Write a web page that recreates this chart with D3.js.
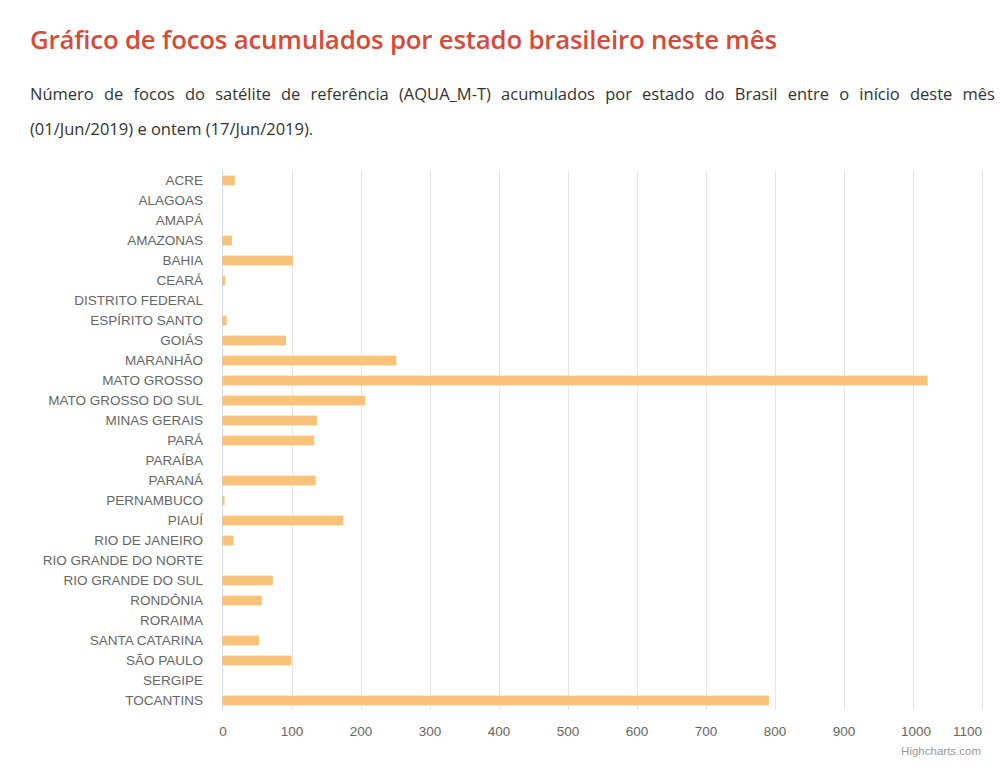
<!DOCTYPE html>
<html>
<head>
<meta charset="utf-8">
<script src="https://cdn.jsdelivr.net/npm/d3@7"></script>
<style>
  body { margin: 0; background: #fff; }
  #wrap { position: relative; width: 1000px; height: 778px; }
  h2 {
    position: absolute; left: 30px; top: 21px; margin: 0;
    font-family: "Open Sans", sans-serif; font-weight: 600; font-size: 25.8px;
    color: #d84a38; letter-spacing: -0.2px;
  }
  p {
    position: absolute; left: 30px; top: 76px; width: 965px; margin: 0;
    font-family: "Open Sans", sans-serif; font-size: 16.5px; line-height: 35px;
    color: #333; text-align: justify;
  }
  svg { position: absolute; left: 0; top: 0; }
</style>
</head>
<body>
<div id="wrap">
  <h2>Gráfico de focos acumulados por estado brasileiro neste mês</h2>
  <p>Número de focos do satélite de referência (AQUA_M-T) acumulados por estado do Brasil entre o início deste mês (01/Jun/2019) e ontem (17/Jun/2019).</p>
  <svg id="svg"></svg>
</div>
<script>
const estados = ['ACRE','ALAGOAS','AMAPÁ','AMAZONAS','BAHIA','CEARÁ','DISTRITO FEDERAL',
  'ESPÍRITO SANTO','GOIÁS','MARANHÃO','MATO GROSSO','MATO GROSSO DO SUL','MINAS GERAIS',
  'PARÁ','PARAÍBA','PARANÁ','PERNAMBUCO','PIAUÍ','RIO DE JANEIRO','RIO GRANDE DO NORTE',
  'RIO GRANDE DO SUL','RONDÔNIA','RORAIMA','SANTA CATARINA','SÃO PAULO','SERGIPE','TOCANTINS'];
const focos = [18,0,0,14,102,4,0,6,92,252,1022,207,137,133,0,135,3,175,16,0,73,57,0,53,100,0,792];
const ticks = [0,100,200,300,400,500,600,700,800,900,1000,1100];

const W = 1000, H = 778;
const pLeft = 222.5, pRight = 981.5, pTop = 170, pBottom = 710;
const font = "'Liberation Sans', Arial, sans-serif";

const svg = d3.select("#svg").attr("width", W).attr("height", H);

const x = d3.scaleLinear().domain([0, 1100]).range([pLeft, pRight]);
const y = d3.scaleBand().domain(estados).range([pTop, pBottom]).paddingInner(0.515).paddingOuter(0.2575);

// grid
svg.append("g")
  .selectAll("line")
  .data(ticks.slice(1))
  .enter().append("line")
  .attr("x1", d => Math.round(x(d)) + 0.5)
  .attr("x2", d => Math.round(x(d)) + 0.5)
  .attr("y1", pTop)
  .attr("y2", pBottom)
  .attr("stroke", "#e6e6e6")
  .attr("stroke-width", 1);

// category axis line
svg.append("line")
  .attr("x1", pLeft).attr("x2", pLeft)
  .attr("y1", pTop).attr("y2", pBottom)
  .attr("stroke", "#ccd6eb")
  .attr("stroke-width", 1);

// bars
svg.append("g")
  .selectAll("rect")
  .data(estados)
  .enter().append("rect")
  .attr("x", x(0))
  .attr("y", d => y(d) + 0.5)
  .attr("width", (d, i) => x(focos[i]) - x(0))
  .attr("height", y.bandwidth())
  .attr("fill", "#f8c27a");

// category labels
svg.append("g")
  .selectAll("text")
  .data(estados)
  .enter().append("text")
  .attr("x", 203)
  .attr("y", d => y(d) + y.bandwidth() / 2 + 0.5)
  .attr("dy", "0.35em")
  .attr("text-anchor", "end")
  .style("font-family", font)
  .style("font-size", "13.5px")
  .style("fill", "#666")
  .text(d => d);

// value axis labels
const xAxis = d3.axisBottom(x).tickValues(ticks).tickFormat(d3.format("d")).tickSize(0).tickPadding(0);
const gx = svg.append("g").attr("transform", `translate(0, 736)`).call(xAxis);
gx.select(".domain").remove();
gx.selectAll("text")
  .attr("dy", 0)
  .style("font-family", font)
  .style("font-size", "13.5px")
  .style("fill", "#666")
  .attr("text-anchor", d => d === 1100 ? "end" : "middle")
  .attr("x", d => d === 1000 ? 3 : 0);

svg.append("text")
  .attr("x", 981)
  .attr("y", 755)
  .attr("text-anchor", "end")
  .style("font-family", font)
  .style("font-size", "11.5px")
  .style("fill", "#999")
  .text("Highcharts.com");
</script>
</body>
</html>
